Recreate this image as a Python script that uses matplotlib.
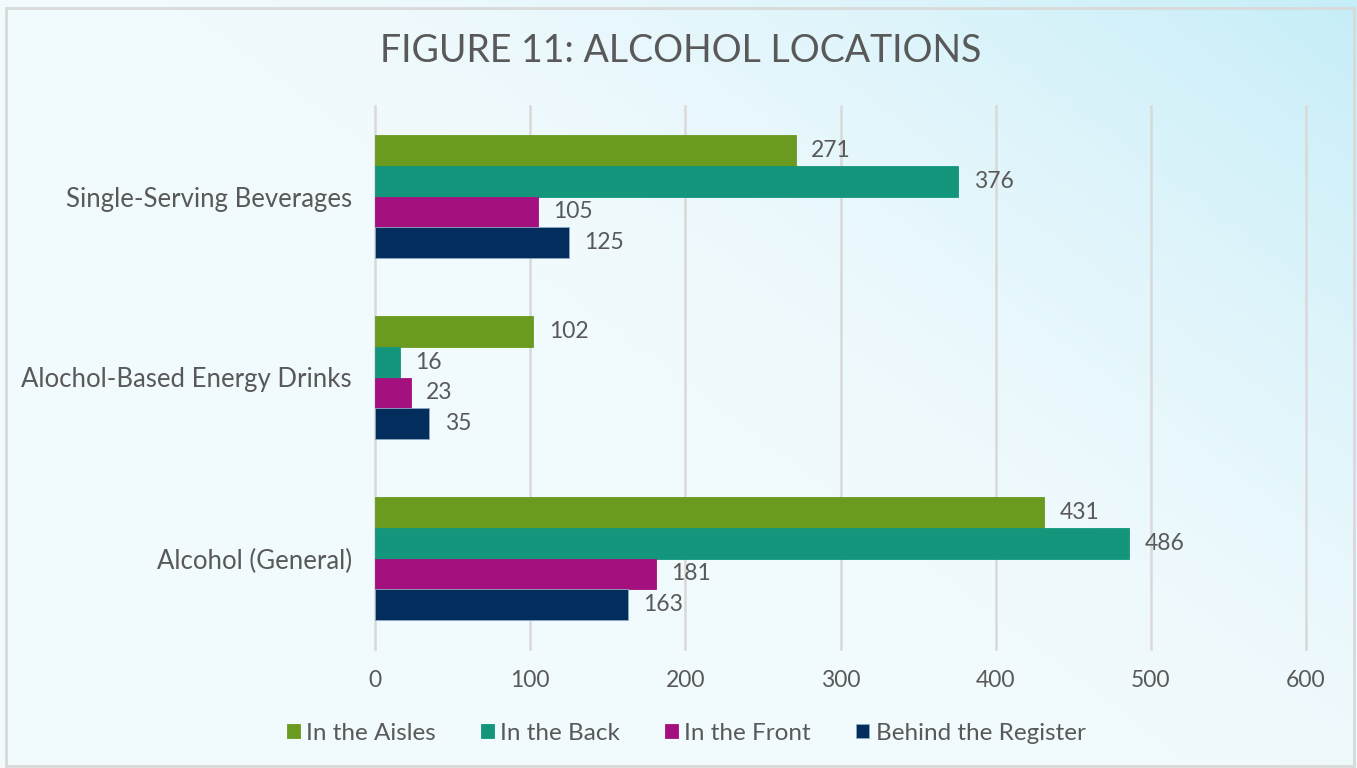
import matplotlib
matplotlib.use("Agg")
import matplotlib.pyplot as plt
import numpy as np

categories = ["Alcohol (General)", "Alochol-Based Energy Drinks", "Single-Serving Beverages"]
series_names = ["In the Aisles", "In the Back", "In the Front", "Behind the Register"]
aisles = [431, 102, 271]
back = [486, 16, 376]
front = [181, 23, 105]
register = [163, 35, 125]
colors = ["#6A9A1F", "#13967C", "#A4107E", "#032D5C"]
xticks = [0, 100, 200, 300, 400, 500, 600]

plt.rcParams['font.family'] = ['Lato', 'DejaVu Sans']
txt = "#595959"

fig = plt.figure(figsize=(13.57, 7.68), dpi=100)

# background gradient
bg = fig.add_axes([0, 0, 1, 1], zorder=-10)
nx, ny = 200, 120
xx, yy = np.meshgrid(np.linspace(0, 1, nx), np.linspace(0, 1, ny))
t = np.clip((xx * 0.8 + yy * 0.6 - 0.7) / 0.7, 0, 1) ** 1.5
c0 = np.array([0xF1, 0xFA, 0xFD]) / 255
c1 = np.array([0xC6, 0xEE, 0xF8]) / 255
img = c0[None, None, :] * (1 - t[..., None]) + c1[None, None, :] * t[..., None]
bg.imshow(img, origin="lower", extent=[0, 1, 0, 1], aspect="auto")
bg.set_xlim(0, 1); bg.set_ylim(0, 1)
bg.axis("off")
bg.add_patch(plt.Rectangle((6/1357, 2/768), 1348/1357, 758/768, fill=False,
                           edgecolor="#D9D9D9", linewidth=2, transform=bg.transAxes))

W, H = 1357, 768
x0, x1 = 375, 1306
ytop, ybot = 106, 649
ax = fig.add_axes([x0 / W, 1 - ybot / H, (x1 - x0) / W, (ybot - ytop) / H])
ax.set_facecolor("none")

h = 0.171
ypos = np.arange(len(categories))
data = [aisles, back, front, register]
for i, (vals, col, name) in enumerate(zip(data, colors, series_names)):
    off = (1.5 - i) * h
    ax.barh(ypos + off, vals, height=h, color=col, label=name, zorder=3,
            edgecolor="#8FA9C2" if i == 3 else col, linewidth=0.6)
    for yv, v in zip(ypos + off, vals):
        ax.text(v + 10, yv, str(v), va="center", ha="left", fontsize=16.5, color=txt, zorder=4)

ax.set_xlim(0, 600)
ax.set_ylim(-0.5, 2.5)
ax.set_xticks(xticks)
ax.set_xticklabels([str(x) for x in xticks], fontsize=16.5, color=txt)
ax.set_yticks(ypos)
ax.set_yticklabels(categories, fontsize=18.5, color=txt)
ax.tick_params(axis="both", length=0)
ax.tick_params(axis="y", pad=16.5)
ax.tick_params(axis="x", pad=15)
ax.grid(axis="x", color="#D9D9D9", linewidth=1.8, zorder=0)
for gl in ax.get_xgridlines():
    gl.set_clip_on(False)
for s in ax.spines.values():
    s.set_visible(False)

fig.text(681 / W, 1 - 51 / H, "FIGURE 11: ALCOHOL LOCATIONS", ha="center", va="center",
         fontsize=27, color=txt)

handles, labels = ax.get_legend_handles_labels()
leg = fig.legend(handles, labels, loc="center", bbox_to_anchor=(686 / W, 1 - 733 / H),
                 ncol=4, frameon=False, fontsize=17.5, handlelength=0.55, handleheight=0.55,
                 handletextpad=0.25, columnspacing=1.85)
for t_ in leg.get_texts():
    t_.set_color(txt)

fig.savefig("out.png", dpi=100)
